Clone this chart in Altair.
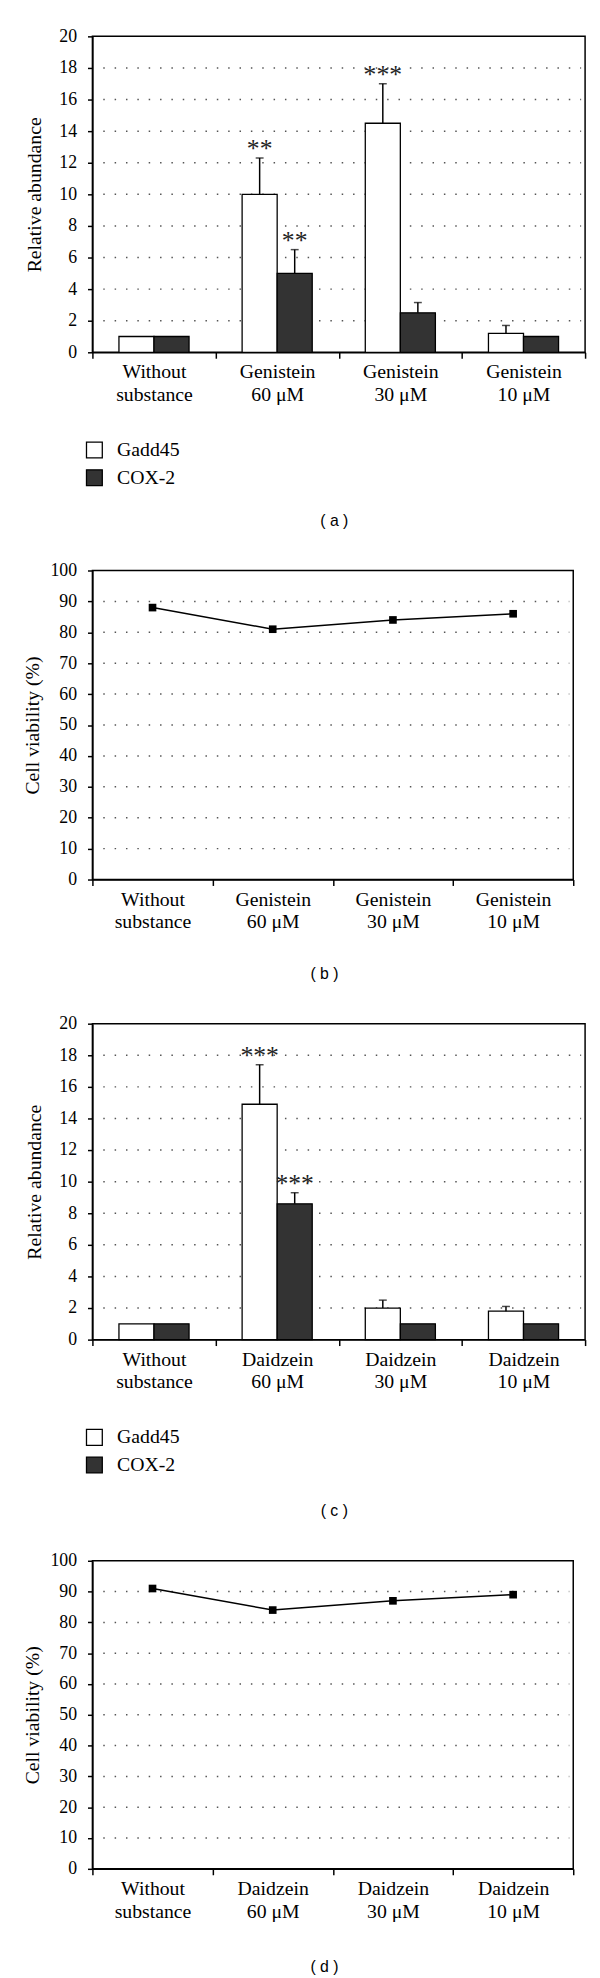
import altair as alt
import pandas as pd

# ---------------- data ----------------
series_names = ["Gadd45", "COX-2"]
series_colors = ["white", "#333333"]

gen_cats = ["Without\nsubstance", "Genistein\n60 μM", "Genistein\n30 μM", "Genistein\n10 μM"]
gen_gadd = [1.0, 10.0, 14.5, 1.2]
gen_gadd_err = [0.0, 2.3, 2.5, 0.5]
gen_gadd_sig = ["", "**", "***", ""]
gen_cox = [1.0, 5.0, 2.5, 1.0]
gen_cox_err = [0.0, 1.5, 0.65, 0.0]
gen_cox_sig = ["", "**", "", ""]
gen_viability = [88, 81, 84, 86]

dai_cats = ["Without\nsubstance", "Daidzein\n60 μM", "Daidzein\n30 μM", "Daidzein\n10 μM"]
dai_gadd = [1.0, 14.9, 2.0, 1.8]
dai_gadd_err = [0.0, 2.5, 0.5, 0.3]
dai_gadd_sig = ["", "***", "", ""]
dai_cox = [1.0, 8.6, 1.0, 1.0]
dai_cox_err = [0.0, 0.7, 0.0, 0.0]
dai_cox_sig = ["", "***", "", ""]
dai_viability = [91, 84, 87, 89]

abund_ticks = list(range(0, 21, 2))
viab_ticks = list(range(0, 101, 10))

SERIF = "Liberation Serif"
LABEL_EXPR = "split(datum.label, '\\n')"


def x_axis():
    return alt.Axis(title=None, labelExpr=LABEL_EXPR, tickBand="extent", labelAngle=0)


def caption_layer(caption, cap_x, cap_y):
    return alt.Chart(pd.DataFrame({"t": [caption]})).mark_text(
        font="Liberation Sans", fontSize=16, color="black", baseline="middle", align="center"
    ).encode(x=alt.value(cap_x), y=alt.value(cap_y), text="t:N")


def bar_panel(cats, gadd, gerr, gsig, cox, cerr, csig, caption, W, H, cap_x, cap_y):
    rows = []
    for i, c in enumerate(cats):
        rows.append(dict(cat=c, series="Gadd45", value=gadd[i], err=gerr[i],
                         top=gadd[i] + gerr[i], sig=gsig[i]))
        rows.append(dict(cat=c, series="COX-2", value=cox[i], err=cerr[i],
                         top=cox[i] + cerr[i], sig=csig[i]))
    df = pd.DataFrame(rows)

    x = alt.X("cat:N", sort=cats, scale=alt.Scale(paddingInner=0, paddingOuter=0), axis=x_axis())
    xoff = alt.XOffset("series:N", sort=series_names,
                       scale=alt.Scale(paddingInner=0, paddingOuter=0.757))
    yscale = alt.Scale(domain=[0, 20], nice=False)
    yaxis = alt.Axis(values=abund_ticks, title="Relative abundance", grid=False, titlePadding=15)

    grid = alt.Chart(pd.DataFrame({"g": abund_ticks[1:-1]})).mark_rule(
        color="#555555", strokeWidth=1.5, strokeDash=[1.5, 10]
    ).encode(y=alt.Y("g:Q", scale=yscale, axis=yaxis), x=alt.value(11), x2=alt.value(W - 4))

    bars = alt.Chart(df).mark_bar(stroke="black", strokeWidth=1.3).encode(
        x=x, xOffset=xoff,
        y=alt.Y("value:Q", scale=yscale, axis=yaxis),
        fill=alt.Fill("series:N", sort=series_names,
                      scale=alt.Scale(domain=series_names, range=series_colors),
                      legend=alt.Legend(orient="none", legendX=-8, legendY=409, title=None,
                                        symbolType="square", symbolSize=256,
                                        symbolStrokeColor="black", symbolStrokeWidth=1.3,
                                        labelFont=SERIF, labelFontSize=20, labelColor="black",
                                        labelOffset=13, rowPadding=6, padding=0)),
    )

    errdf = df[df["err"] > 0]
    errs = alt.Chart(errdf).mark_rule(color="black", strokeWidth=1.5).encode(
        x=x, xOffset=xoff,
        y=alt.Y("value:Q", scale=yscale, axis=yaxis), y2="top:Q")
    caps = alt.Chart(errdf).mark_tick(color="black", thickness=1.5, size=8).encode(
        x=x, xOffset=xoff, y=alt.Y("top:Q", scale=yscale, axis=yaxis))

    sigdf = df[df["sig"] != ""]
    stars = alt.Chart(sigdf).mark_text(font=SERIF, fontSize=26, baseline="alphabetic",
                                       dy=-1, color="#222222").encode(
        x=x, xOffset=xoff, y=alt.Y("top:Q", scale=yscale, axis=yaxis), text="sig:N")

    return alt.layer(grid, bars, errs, caps, stars,
                     caption_layer(caption, cap_x, cap_y)).properties(width=W, height=H)


def line_panel(cats, viab, caption, W, H, cap_x, cap_y):
    df = pd.DataFrame({"cat": cats, "v": viab})
    x = alt.X("cat:N", sort=cats, bandPosition=0.5,
              scale=alt.Scale(type="band", paddingInner=0, paddingOuter=0), axis=x_axis())
    yscale = alt.Scale(domain=[0, 100], nice=False)
    yaxis = alt.Axis(values=viab_ticks, title="Cell viability (%)", grid=False, titlePadding=7.5)

    grid = alt.Chart(pd.DataFrame({"g": viab_ticks[1:-1]})).mark_rule(
        color="#555555", strokeWidth=1.5, strokeDash=[1.5, 10]
    ).encode(y=alt.Y("g:Q", scale=yscale, axis=yaxis), x=alt.value(11), x2=alt.value(W - 4))

    line = alt.Chart(df).mark_line(color="black", strokeWidth=1.5).encode(
        x=x, y=alt.Y("v:Q", scale=yscale, axis=yaxis))
    pts = alt.Chart(df).mark_point(shape="square", filled=True, color="black", size=60,
                                   opacity=1).encode(
        x=x, y=alt.Y("v:Q", scale=yscale, axis=yaxis))

    return alt.layer(grid, line, pts,
                     caption_layer(caption, cap_x, cap_y)).properties(width=W, height=H)


pa = bar_panel(gen_cats, gen_gadd, gen_gadd_err, gen_gadd_sig, gen_cox, gen_cox_err,
               gen_cox_sig, "( a )", 499, 320, 245, 491)
pb = line_panel(gen_cats, gen_viability, "( b )", 487, 313, 235, 409)
pc = bar_panel(dai_cats, dai_gadd, dai_gadd_err, dai_gadd_sig, dai_cox, dai_cox_err,
               dai_cox_sig, "( c )", 499, 320, 245, 494)
pd_ = line_panel(dai_cats, dai_viability, "( d )", 487, 312, 235, 411)

chart = alt.concat(pa, pb, pc, pd_, columns=1, spacing=31, align="none").resolve_scale(
    fill="independent"
).resolve_legend(fill="independent").properties(
    padding={"left": 13.5, "top": 6, "right": 5, "bottom": 2}
).configure_view(
    stroke="black", strokeWidth=1.5
).configure_axis(
    domainColor="black", domainWidth=1.5, tickColor="black", tickWidth=1.5,
    labelFont=SERIF, labelFontSize=18, labelColor="black",
    titleFont=SERIF, titleFontSize=20, titleFontWeight="normal", titleColor="black",
).configure_axisX(
    labelFontSize=20, labelLineHeight=23, tickSize=6, labelPadding=4
).configure_axisY(
    tickSize=5, labelPadding=11
)

chart.save("out.html", embed_options={"renderer": "svg", "actions": False})
